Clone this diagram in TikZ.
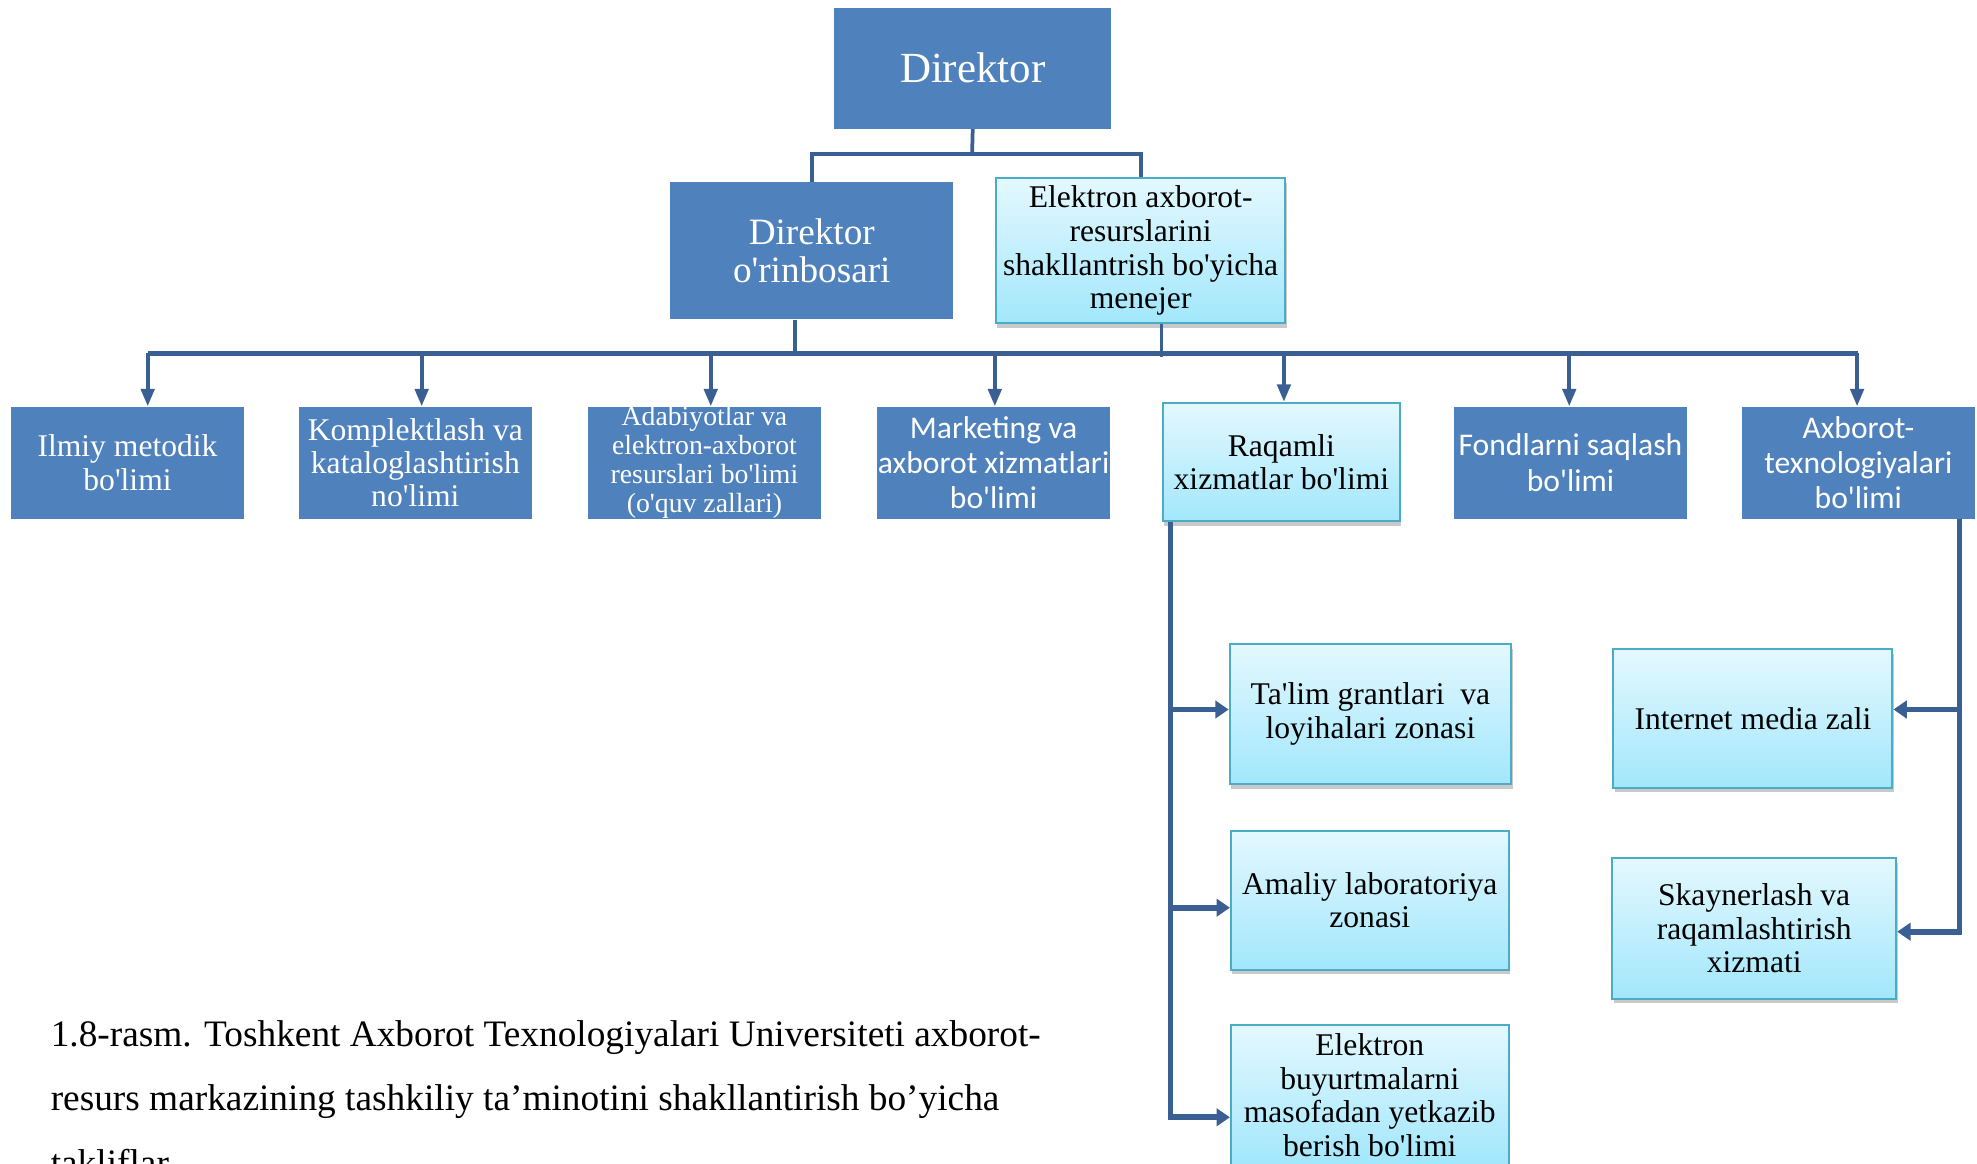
\documentclass[tikz,border=0pt]{standalone}
\usepackage{fontspec}
\setmainfont{Liberation Serif}[Ligatures=TeXOff]
\newfontfamily\calib{Carlito}[Ligatures=TeXOff]
\usetikzlibrary{arrows.meta,shadows,calc}
\definecolor{boxblue}{HTML}{4F81BD}
\definecolor{lineblue}{HTML}{3A5F93}
\definecolor{cyantop}{HTML}{E4F8FE}
\definecolor{cyanbot}{HTML}{A2E7FC}
\definecolor{cyanedge}{HTML}{4BACC6}
\tikzset{
 sz/.style 2 args={minimum width=#1*0.9469pt, minimum height=#2*0.9469pt},
 bluebox/.style={rectangle, fill=boxblue, text=white, inner sep=0pt, align=center},
 cyanbox/.style={rectangle, top color=cyantop, bottom color=cyanbot, draw=cyanedge, line width=1.5pt, inner sep=0pt, align=center, text=black,
   drop shadow={shadow xshift=1pt, shadow yshift=-3.5pt, opacity=0.35, fill=black!60}},
 conn/.style={draw=lineblue, line width=2.8pt},
 busline/.style={draw=lineblue, line width=4.2pt},
 arr/.style={draw=lineblue, line width=2.8pt, -{Triangle[width=10pt,length=13pt]}},
 arrb/.style={draw=lineblue, line width=4.2pt, line join=miter, -{Triangle[width=13pt,length=10pt]}},
 fmain/.style={font=\fontsize{23.7pt}{25.1pt}\selectfont},
 fmen/.style={font=\fontsize{23.7pt}{25.3pt}\selectfont},
 fdir/.style={font=\fontsize{32.2pt}{34pt}\selectfont},
 fdep/.style={font=\fontsize{27.9pt}{28.4pt}\selectfont},
 fadab/.style={font=\fontsize{20.8pt}{21.8pt}\selectfont},
 fcal/.style={font=\calib\fontsize{23.7pt}{26.5pt}\selectfont},
 fcap/.style={font=\fontsize{28pt}{30pt}\selectfont, inner sep=0pt, anchor=base west},
}
\begin{document}
\begin{tikzpicture}[x=0.9469pt,y=-0.9469pt]
\useasboundingbox (0,0) rectangle (1566,922);
\clip (0,0) rectangle (1566,922);
\fill[white] (0,0) rectangle (1566,922);

% top
\node[bluebox, sz={219}{96}, fdir] (dir) at (770.5,54) {Direktor};
\node[bluebox, sz={224}{109}, fdep] (dep) at (643,198.5) {Direktor\\o'rinbosari};
\node[cyanbox, sz={229}{115}, fmen] (men) at (903.5,198.5) {Elektron axborot-\\resurslarini\\shakllantrish bo'yicha\\menejer};

% row
\node[bluebox, sz={184}{89}, fmain] (b1) at (101,366.5) {Ilmiy metodik\\bo'limi};
\node[bluebox, sz={184}{89}, fmain] (b2) at (329,366.5) {Komplektlash va\\kataloglashtirish\\no'limi};
\node[bluebox, sz={184}{89}, fadab] (b3) at (558,366.5) {Adabiyotlar va\\elektron-axborot\\resurslari bo'limi\\(o'quv zallari)};
\node[bluebox, sz={184}{89}, fcal] (b4) at (787,366.5) {Marketing va\\axborot xizmatlari\\bo'limi};
\node[cyanbox, sz={188}{94}, fmain] (b5) at (1015,366) {Raqamli\\xizmatlar bo'limi};
\node[bluebox, sz={184}{89}, fcal] (b6) at (1244,366.5) {Fondlarni saqlash\\bo'limi};
\node[bluebox, sz={184}{89}, fcal] (b7) at (1472,366.5) {Axborot-\\texnologiyalari\\bo'limi};

% sub boxes
\node[cyanbox, sz={223}{111}, fmain] (s1) at (1085.5,565.5) {Ta'lim grantlari\ \ va\\loyihalari zonasi};
\node[cyanbox, sz={220}{110}, fmain] (s2) at (1085,713) {Amaliy laboratoriya\\zonasi};
\node[cyanbox, sz={220}{111}, fmain] (s3) at (1085,867.5) {Elektron\\buyurtmalarni\\masofadan yetkazib\\berish bo'limi};
\node[cyanbox, sz={221}{110}, fmain] (s4) at (1388.5,569) {Internet media zali};
\node[cyanbox, sz={225}{111}, fmain] (s5) at (1389.5,735.5) {Skaynerlash va\\raqamlashtirish\\xizmati};

% connectors top
\coordinate (j1) at (770,122);
\draw[conn] (dir.south) -- (j1);
\draw[conn] (dep.north) |- (j1) -| (men.north);

% bus
\coordinate (bL) at (117,280);
\coordinate (bR) at (1472,280);
\draw[busline] (bL) -- (bR);
\draw[conn] ($(dep.south)+(-13,0)$) coordinate (d1) -- (d1 |- bL);
\draw[conn] ($(men.south)+(16.5,0)$) coordinate (m1) -- ($(m1 |- bL)+(0,3)$);

\foreach \n/\x in {b1/117,b2/334,b3/563,b4/788,b5/1017,b6/1243,b7/1471}{
  \coordinate (t\n) at (\x,280);
  \draw[arr] (t\n) -- (t\n |- \n.north);
}

% Raqamli branch
\coordinate (r0) at ($(b5.south west)+(7,0)$);
\coordinate (r1) at (928,562);
\coordinate (r2) at (928,719);
\coordinate (r3) at (928,885);
\draw[arrb] (r0) |- (r3 -| s3.west);
\draw[arrb] (r1) -- (r1 -| s1.west);
\draw[arrb] (r2) -- (r2 -| s2.west);

% Axborot branch
\coordinate (q0) at ($(b7.south east)+(-12,0)$);
\coordinate (q1) at (1552,562);
\coordinate (q2) at (1552,738);
\draw[arrb] (q0) |- (q2 -| s5.east);
\draw[arrb] (q1) -- (q1 -| s4.east);

% caption
\node[fcap] (c1) at (40,829) {1.8-rasm. Toshkent Axborot Texnologiyalari Universiteti axborot-};
\node[fcap] (c2) at (40,880) {resurs markazining tashkiliy ta’minotini shakllantirish bo’yicha};
\node[fcap] (c3) at (40,931) {takliflar};
\end{tikzpicture}
\end{document}
